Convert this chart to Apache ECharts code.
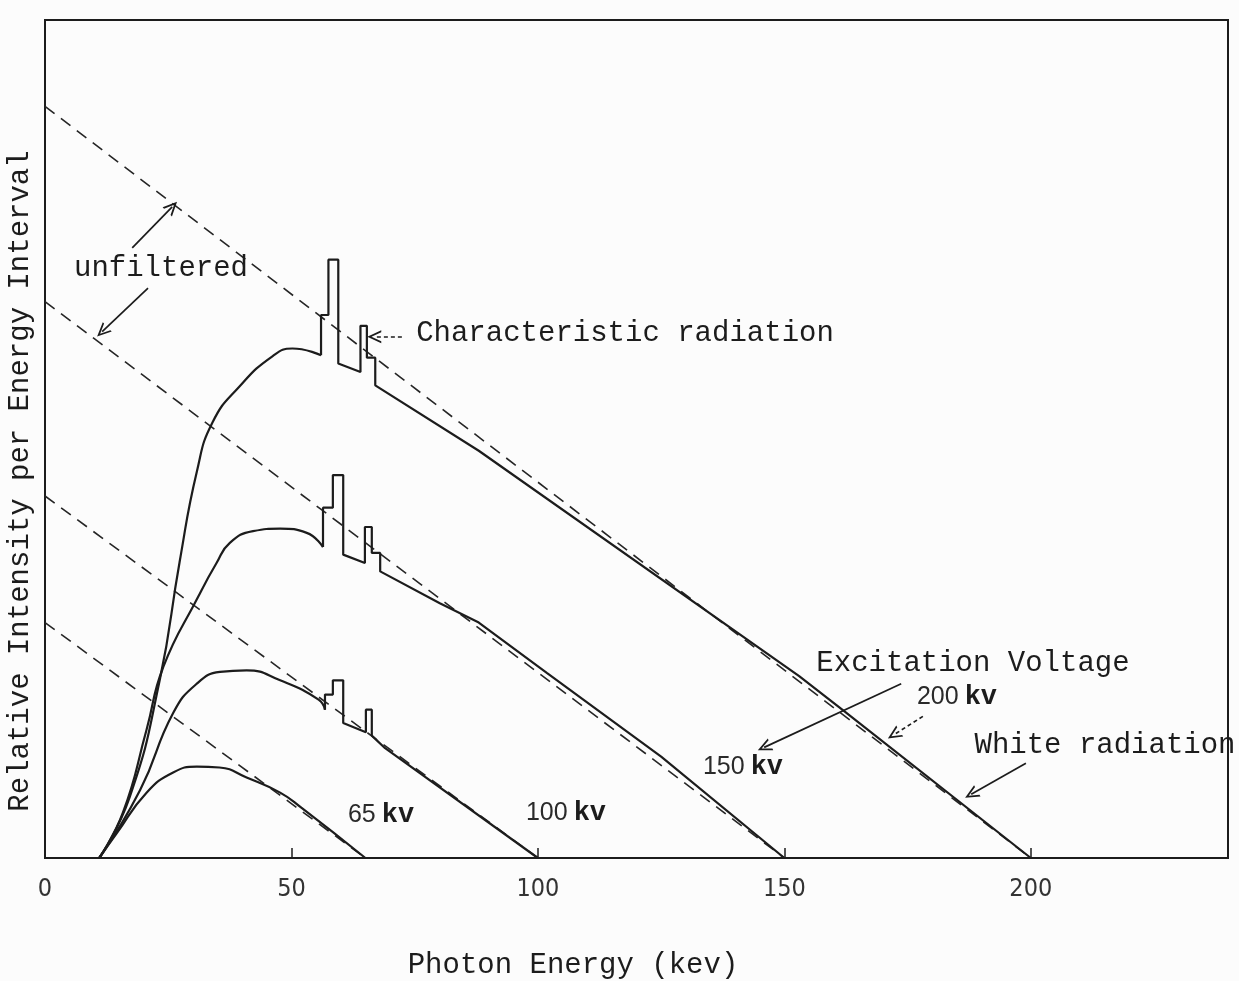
<!DOCTYPE html>
<html>
<head>
<meta charset="utf-8">
<title>X-ray spectra</title>
<script src="https://cdn.jsdelivr.net/npm/echarts@6/dist/echarts.min.js"></script>
<style>
html, body { margin: 0; padding: 0; background: #fcfcfc; }
#main { width: 1239px; height: 981px; }
</style>
</head>
<body>
<div id="main"></div>
<script>
// photon energy (kev) / relative intensity
var xTicks = [0, 50, 100, 150, 200];

var kev200Rise = [11, 17.2, 23.3, 27.3, 30.8, 34, 39.5, 46.2, 50.2, 56];
var int200Rise = [0, 7.3, 21.3, 35.3, 46.1, 52.0, 56.3, 59.9, 60.8, 60.0];
var kev200Tail = [56, 56, 57.5, 57.5, 59.5, 59.5, 64, 64, 65.3, 65.3, 67, 67, 88, 153, 162, 200];
var int200Tail = [60.0, 64.8, 64.8, 71.4, 71.4, 59.0, 58.0, 63.5, 63.5, 59.7, 59.7, 56.4, 48.6, 21.7, 17.6, 0];

var kev150Rise = [11, 15.8, 20.6, 24, 31.1, 34.8, 37.5, 42.2, 47.7, 53.1, 56.4];
var int150Rise = [0, 5.4, 15.3, 22.8, 31.2, 35.2, 37.6, 39.0, 39.3, 38.8, 37.1];
var kev150Tail = [56.4, 56.4, 58.4, 58.4, 60.5, 60.5, 64.9, 64.9, 66.3, 66.3, 68, 68, 80.1, 88, 101.8, 125, 150];
var int150Tail = [37.1, 41.8, 41.8, 45.7, 45.7, 36.2, 35.2, 39.5, 39.5, 36.4, 36.4, 34.2, 30.4, 28.1, 22.1, 12.1, 0];

var kev100Rise = [11, 19.3, 26.0, 30.8, 35.5, 40.9, 47.7, 55.5, 56.8];
var int100Rise = [0, 8.1, 17.3, 20.8, 22.2, 22.4, 21.2, 18.9, 17.7];
var kev100Tail = [56.8, 56.8, 58.4, 58.4, 60.5, 60.5, 65.1, 65.1, 66.3, 66.3, 69, 100];
var int100Tail = [17.7, 19.5, 19.5, 21.2, 21.2, 16.1, 15.0, 17.7, 17.7, 14.6, 13.1, 0];

var kev65 = [11, 14.5, 20.6, 26.0, 30.8, 35.4, 40.9, 47.7, 52, 65];
var int65 = [0, 2.9, 7.8, 10.2, 10.9, 10.8, 9.6, 7.8, 6.0, 0];

// unfiltered (dashed) lines: excitation voltage and intensity at 0 kev
var unfilteredKv = [200, 150, 100, 65];
var unfilteredStart = [89.7, 66.4, 43.2, 28.1];

var mono = '"Liberation Mono", "DejaVu Sans Mono", monospace';
var ink = '#1c1c1c';
var chevron = 'path://M5,0 L10,10 L8.5,10 L5,3 L1.5,10 L0,10 Z';

function pairs(xs, ys) {
	return xs.map(function(x, i) { return [x, ys[i]]; });
}

function solid(xs, ys, smooth) {
	return {
		type: 'line',
		data: pairs(xs, ys),
		smooth: smooth ? 0.5 : false,
		symbol: 'none',
		silent: true,
		z: 3,
		lineStyle: { color: ink, width: 2.2 }
	};
}

var series = [];
unfilteredKv.forEach(function(kv, i) {
	series.push({
		type: 'line',
		data: [[0, unfilteredStart[i]], [kv, 0]],
		symbol: 'none',
		silent: true,
		z: 2,
		lineStyle: { color: '#262626', width: 1.6, type: [12, 8] }
	});
});
series.push(solid(kev200Rise, int200Rise, true));
series.push(solid(kev200Tail, int200Tail, false));
series.push(solid(kev150Rise, int150Rise, true));
series.push(solid(kev150Tail, int150Tail, false));
series.push(solid(kev100Rise, int100Rise, true));
series.push(solid(kev100Tail, int100Tail, false));
series.push(solid(kev65, int65, true));

// annotation arrows
function arrow(a, b, dashed) {
	return [
		{ coord: a },
		{ coord: b, lineStyle: { type: dashed ? [4, 3] : 'solid' } }
	];
}
series.push({
	type: 'line',
	data: [],
	silent: true,
	markLine: {
		silent: true,
		animation: false,
		symbol: ['none', chevron],
		symbolSize: [13, 14],
		label: { show: false },
		lineStyle: { color: ink, width: 1.7, type: 'solid' },
		emphasis: { disabled: true },
		data: [
			arrow([17.7, 72.8], [25.8, 77.7]),
			arrow([20.9, 68.0], [11.6, 62.8]),
			arrow([72.4, 62.2], [66.8, 62.2], true),
			arrow([173.7, 20.8], [145.9, 13.2]),
			arrow([178.1, 16.9], [172.2, 14.7], true),
			arrow([199.0, 11.3], [187.9, 7.6])
		]
	}
});

function note(text, x, y, size) {
	return {
		type: 'text', x: x, y: y, z: 10, silent: true,
		style: {
			text: text, align: 'center', verticalAlign: 'middle',
			fontFamily: mono, fontSize: size || 29, fill: ink
		}
	};
}
function kvNote(num, x, y) {
	return {
		type: 'text', x: x, y: y, z: 10, silent: true,
		style: {
			text: '{n|' + num + '}{k|kv}', align: 'center', verticalAlign: 'middle',
			rich: {
				n: { fontFamily: '"Liberation Sans", sans-serif', fontSize: 25, fill: '#2a2a2a', padding: [0, 6, 0, 0] },
				k: { fontFamily: mono, fontSize: 27, fontWeight: 'bold', fill: ink }
			}
		}
	};
}

var yTitle = note('Relative Intensity per Energy Interval', 20, 481);
yTitle.rotation = Math.PI / 2;

var option = {
	backgroundColor: '#fcfcfc',
	animation: false,
	grid: {
		left: 45, right: 11, top: 20, bottom: 123,
		show: true, borderColor: ink, borderWidth: 2
	},
	xAxis: {
		type: 'value',
		min: 0, max: 240, interval: 50,
		axisLine: { show: true, lineStyle: { color: ink, width: 2 } },
		axisTick: { show: true, inside: true, length: 10, lineStyle: { color: ink, width: 1.5 } },
		splitLine: { show: false },
		axisLabel: {
			margin: 19,
			fontFamily: '"Liberation Sans Narrow", "DejaVu Sans Condensed", sans-serif',
			fontSize: 25,
			color: '#333',
			formatter: function(v) { return xTicks.indexOf(v) >= 0 ? String(v) : ''; }
		}
	},
	yAxis: {
		type: 'value',
		min: 0, max: 100,
		axisLine: { show: true, lineStyle: { color: ink, width: 2 } },
		axisTick: { show: false },
		axisLabel: { show: false },
		splitLine: { show: false }
	},
	graphic: [
		yTitle,
		note('unfiltered', 161, 268),
		note('Characteristic radiation', 625, 333),
		note('Excitation Voltage', 973, 663),
		note('White radiation', 1105, 745),
		note('Photon Energy (kev)', 573, 965),
		kvNote('65', 381, 815),
		kvNote('100', 566, 813),
		kvNote('150', 743, 767),
		kvNote('200', 957, 697)
	],
	series: series
};

var chart = echarts.init(document.getElementById('main'));
chart.setOption(option);
window.onresize = function() { chart.resize(); };
</script>
</body>
</html>
